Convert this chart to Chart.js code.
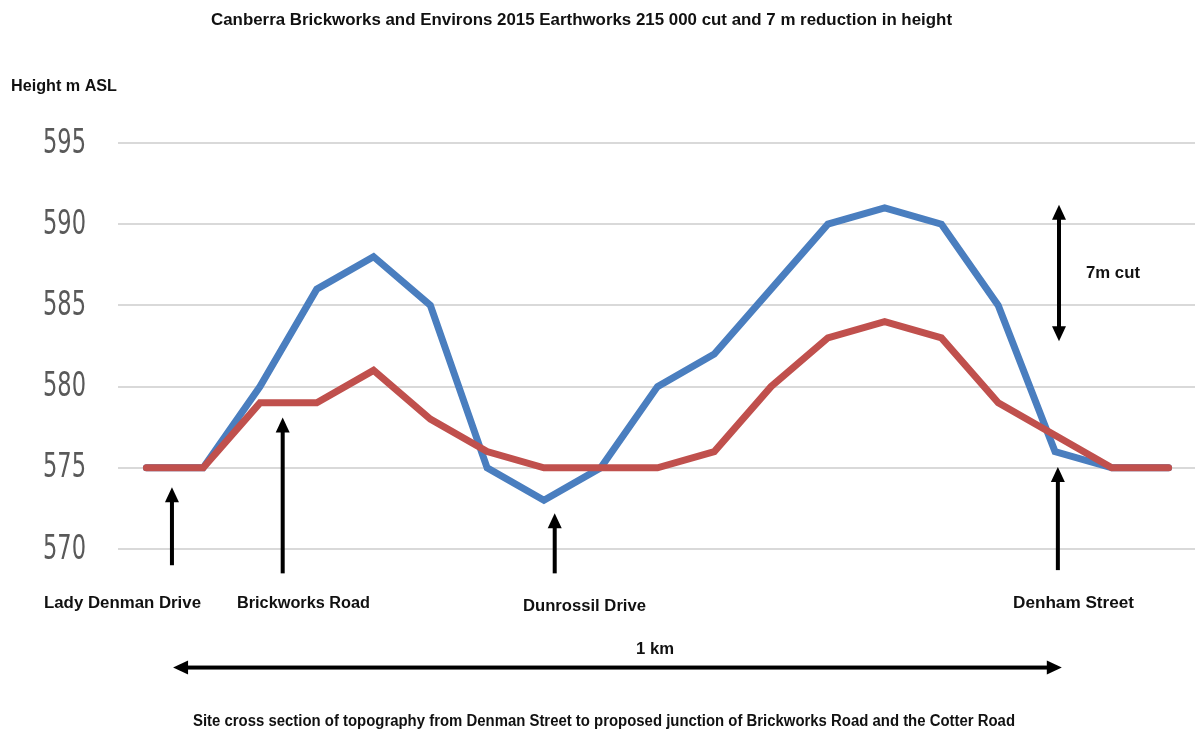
<!DOCTYPE html>
<html>
<head>
<meta charset="utf-8">
<title>Canberra Brickworks cross section</title>
<script src="https://cdn.jsdelivr.net/npm/chart.js@4.4.0/dist/chart.umd.min.js"></script>
<style>
  html, body { margin: 0; padding: 0; background: #ffffff; overflow: hidden; }
  #wrap { position: relative; width: 1197px; height: 733px; }
</style>
</head>
<body>
<div id="wrap"><canvas id="section"></canvas></div>
<script>
// Survey stations along the cross section (evenly spaced)
const stations = ['0','1','2','3','4','5','6','7','8','9','10','11','12','13','14','15','16','17','18'];
// Natural ground level before earthworks (m ASL)
const existingSurface = [575,575,580,586,588,585,575,573,575,580,582,586,590,591,590,585,576,575,575];
// Finished ground level after the 2015 cut (m ASL)
const finishedSurface = [575,575,579,579,581,578,576,575,575,575,576,580,583,584,583,579,577,575,575];
// Height axis
const heightMin = 570;
const heightMax = 595;
const heightStep = 5;

const TEXT_FONT = "'Liberation Sans', Arial, sans-serif";
const TICK_FONT = "'DejaVu Sans Condensed', 'Liberation Sans', sans-serif";

// Draws bold text stretched to span [left, right] on the given baseline
function fitText(ctx, str, left, right, baseline, size) {
  ctx.save();
  ctx.font = 'bold ' + size + 'px ' + TEXT_FONT;
  ctx.fillStyle = '#111111';
  ctx.textAlign = 'left';
  ctx.textBaseline = 'alphabetic';
  const w = ctx.measureText(str).width;
  ctx.translate(left, baseline);
  ctx.scale((right - left) / w, 1);
  ctx.fillText(str, 0, 0);
  ctx.restore();
}

// Solid black arrow from (x1,y1) to (x2,y2) with heads at either end
function arrow(ctx, x1, y1, x2, y2, headStart, headEnd) {
  const head = 15, half = 7, shaft = 4;
  const ang = Math.atan2(y2 - y1, x2 - x1);
  const len = Math.hypot(x2 - x1, y2 - y1);
  ctx.save();
  ctx.translate(x1, y1);
  ctx.rotate(ang);
  ctx.fillStyle = '#000000';
  const s0 = headStart ? head - 1 : 0;
  const s1 = headEnd ? len - head + 1 : len;
  ctx.fillRect(s0, -shaft / 2, s1 - s0, shaft);
  if (headEnd) {
    ctx.beginPath();
    ctx.moveTo(len, 0);
    ctx.lineTo(len - head, -half);
    ctx.lineTo(len - head, half);
    ctx.closePath();
    ctx.fill();
  }
  if (headStart) {
    ctx.beginPath();
    ctx.moveTo(0, 0);
    ctx.lineTo(head, -half);
    ctx.lineTo(head, half);
    ctx.closePath();
    ctx.fill();
  }
  ctx.restore();
}

// Narrow grey height labels, right-aligned beside each grid line
const heightLabels = {
  id: 'heightLabels',
  afterDraw(chart) {
    const ctx = chart.ctx;
    const ys = chart.scales.y;
    ctx.save();
    ctx.font = '33px ' + TICK_FONT;
    ctx.fillStyle = '#595959';
    ctx.textAlign = 'right';
    ctx.textBaseline = 'middle';
    const squeeze = 43 / ctx.measureText('595').width;
    ys.ticks.forEach(t => {
      const y = ys.getPixelForValue(t.value);
      ctx.save();
      ctx.translate(86, y + 1);
      ctx.scale(squeeze, 1);
      ctx.fillText(String(t.value), 0, 0);
      ctx.restore();
    });
    ctx.restore();
  }
};

const annotations = {
  id: 'sectionAnnotations',
  afterDraw(chart) {
    const ctx = chart.ctx;
    const xs = chart.scales.x, ys = chart.scales.y;
    const px = i => xs.getPixelForValue(i);
    const py = v => ys.getPixelForValue(v);

    // Road markers pointing up at the profile
    arrow(ctx, px(0.45), py(569.0), px(0.45), py(573.8), false, true);
    arrow(ctx, px(2.40), py(568.5), px(2.40), py(578.1), false, true);
    arrow(ctx, px(7.19), py(568.5), px(7.19), py(572.2), false, true);
    arrow(ctx, px(16.05), py(568.7), px(16.05), py(575.05), false, true);
    // Depth of cut
    arrow(ctx, px(16.07), py(591.2), px(16.07), py(582.8), true, true);
    // Horizontal distance scale
    arrow(ctx, px(0.47), py(562.7), px(16.12), py(562.7), true, true);

    fitText(ctx, 'Canberra Brickworks and Environs 2015 Earthworks 215 000 cut and 7 m reduction in height', 211, 952, 25, 16);
    fitText(ctx, 'Height m ASL', 11, 117, 91, 16);
    fitText(ctx, '7m cut', 1086, 1140, 278, 16);
    fitText(ctx, 'Lady Denman Drive', 44, 201, 608, 16);
    fitText(ctx, 'Brickworks Road', 237, 370, 608, 16);
    fitText(ctx, 'Dunrossil Drive', 523, 646, 611, 16);
    fitText(ctx, 'Denham Street', 1013, 1134, 608, 16);
    fitText(ctx, '1 km', 636, 674, 654, 16);
    fitText(ctx, 'Site cross section of topography from Denman Street to proposed junction of Brickworks Road and the Cotter Road', 193, 1015, 726, 16);
  }
};

new Chart(document.getElementById('section'), {
  type: 'line',
  data: {
    labels: stations,
    datasets: [
      {
        label: 'Existing surface',
        data: existingSurface,
        borderColor: '#4A7EBF',
        borderWidth: 7,
        order: 1
      },
      {
        label: 'After earthworks',
        data: finishedSurface,
        borderColor: '#C0504D',
        borderWidth: 7,
        order: 0
      }
    ]
  },
  options: {
    responsive: true,
    maintainAspectRatio: false,
    animation: false,
    devicePixelRatio: 1,
    layout: { padding: { top: 143, bottom: 184, left: 0, right: 0 } },
    elements: {
      line: { tension: 0, borderCapStyle: 'round', borderJoinStyle: 'miter', fill: false },
      point: { radius: 0, hoverRadius: 0 }
    },
    plugins: {
      legend: { display: false },
      title: { display: false },
      tooltip: { enabled: false }
    },
    scales: {
      x: {
        type: 'category',
        offset: true,
        display: false
      },
      y: {
        min: heightMin,
        max: heightMax,
        afterFit(scale) { scale.width = 118; },
        border: { display: false },
        grid: { color: '#D9D9D9', lineWidth: 2, drawTicks: false },
        ticks: {
          stepSize: heightStep,
          display: false
        }
      }
    }
  },
  plugins: [heightLabels, annotations]
});
</script>
</body>
</html>
